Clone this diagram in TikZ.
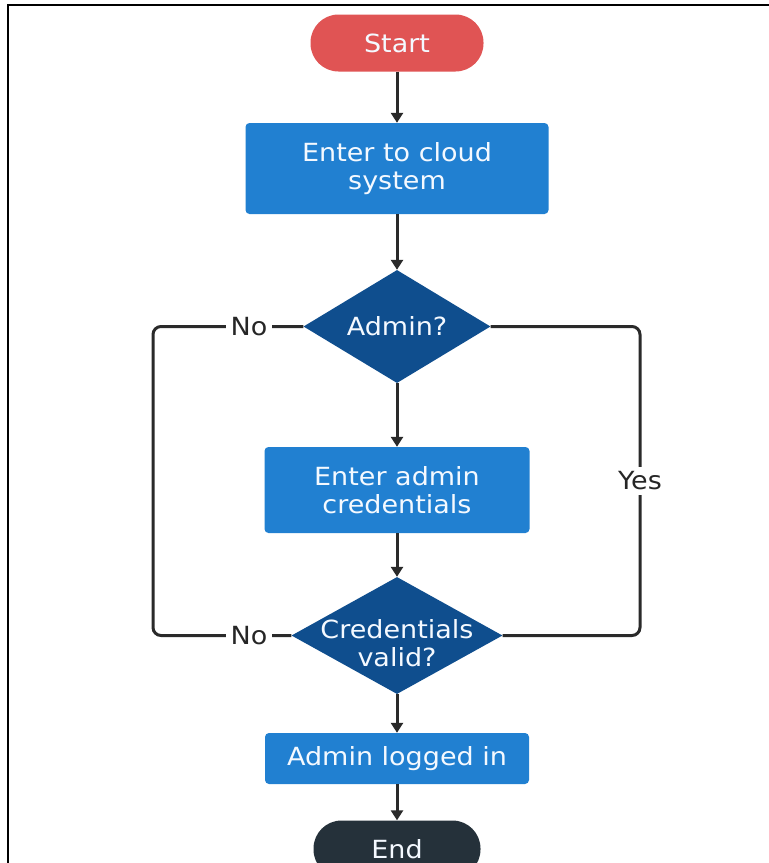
\documentclass[tikz,border=0pt]{standalone}
\usepackage{fontspec}
\newfontfamily\dfont{DejaVu Sans}[FakeStretch=1.08]
\usetikzlibrary{shapes.geometric,arrows.meta}
\definecolor{startred}{HTML}{E05454}
\definecolor{boxblue}{HTML}{2180D1}
\definecolor{diamblue}{HTML}{0F4E8E}
\definecolor{enddark}{HTML}{25313A}
\definecolor{linedark}{HTML}{2A2A2A}
\definecolor{txtwhite}{HTML}{F4F9FF}
\tikzset{
  base/.style={font=\dfont\fontsize{25}{28}\selectfont, text=txtwhite, align=center, inner sep=0pt},
  pill/.style={base, rectangle, rounded corners=28pt, minimum height=57pt},
  procbox/.style={base, rectangle, rounded corners=4pt, fill=boxblue},
  decision/.style={diamond, fill=diamblue, inner sep=0pt},
  dtext/.style={base},
  conn/.style={draw=linedark, line width=3pt},
  arr/.style={conn, -{Triangle[length=10pt,width=12pt]}},
  lab/.style={font=\dfont\fontsize{25}{28}\selectfont, text=black!85, fill=white, inner sep=5pt}
}
\begin{document}
\begin{tikzpicture}[x=1pt,y=-1pt]
\clip (0,0) rectangle (769,863);
\fill[white] (0,0) rectangle (769,863);
% frame
\draw[black, line width=2pt] (8,863) -- (8,5) -- (769,5);

\node[pill, fill=startred, minimum width=173pt] (start) at (397,43) {Start};
\node[procbox, minimum width=303pt, minimum height=91pt] (b1) at (397,168.5) {Enter to cloud\\system};
\node[decision, minimum width=187pt, minimum height=113pt] (d1) at (397,326.5) {};
\node[dtext] (d1t) at (397,326) {Admin?};
\node[procbox, minimum width=265pt, minimum height=86pt] (b2) at (397,490) {Enter admin\\credentials};
\node[decision, minimum width=211pt, minimum height=117pt] (d2) at (397,635.5) {};
\node[dtext] (d2t) at (397,643) {Credentials\\valid?};
\node[procbox, minimum width=264pt, minimum height=51pt] (b3) at (397,758.5) {Admin logged in};
\node[pill, fill=enddark, minimum width=167pt] (end) at (397,849) {End};

\draw[arr] (start.south) -- (b1.north);
\draw[arr] (b1.south) -- (d1.north);
\draw[arr] (d1.south) -- (b2.north);
\draw[arr] (b2.south) -- (d2.north);
\draw[arr] (d2.south) -- (b3.north);
\draw[arr] (b3.south) -- (end.north);

\coordinate (lt) at (153,326.5);
\coordinate (lb) at (153,635.5);
\coordinate (rt) at (640,326.5);
\coordinate (rb) at (640,635.5);
\draw[conn, rounded corners=8pt] (d1.west) -- (lt) -- (lb) -- (d2.west);
\draw[conn, rounded corners=8pt] (d1.east) -- (rt) -- (rb) -- (d2.east);
\node[lab] (no1) at (249,326.5) {No};
\node[lab] (no2) at (249,635.5) {No};
\node[lab, inner xsep=2pt] (yes) at (640,481) {Yes};
\end{tikzpicture}
\end{document}
